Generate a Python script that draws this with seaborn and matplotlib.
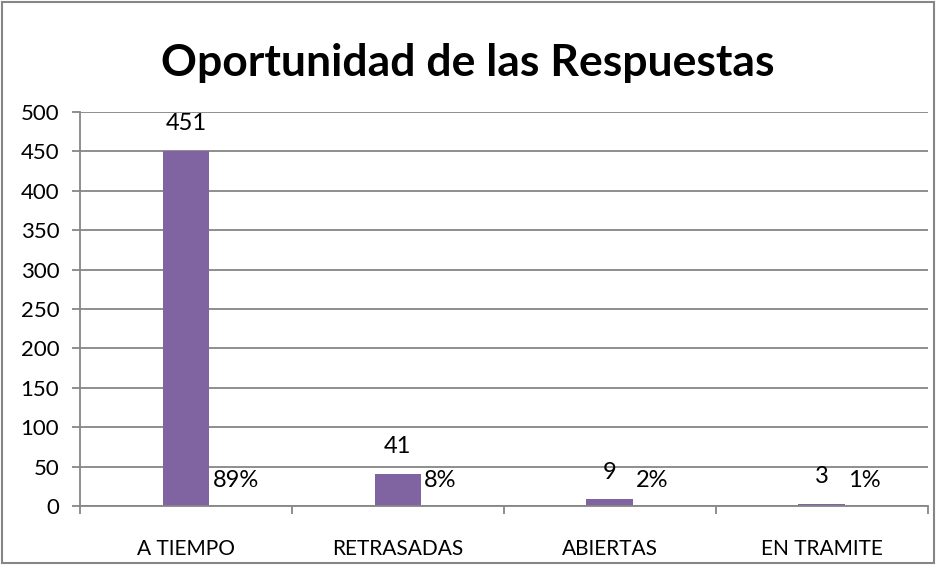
import numpy as np
import pandas as pd
import matplotlib
matplotlib.use("Agg")
import matplotlib.pyplot as plt
import seaborn as sns

# Datos
categorias = ["A TIEMPO", "RETRASADAS", "ABIERTAS", "EN TRAMITE"]
respuestas = [451, 41, 9, 3]
porcentajes = ["89%", "8%", "2%", "1%"]
yticks = [0, 50, 100, 150, 200, 250, 300, 350, 400, 450, 500]

df = pd.DataFrame({"categoria": categorias, "respuestas": respuestas})

sns.set_theme(style="white")
plt.rcParams["font.family"] = ["Lato", "DejaVu Sans"]

fig = plt.figure(figsize=(9.36, 5.65), dpi=100)
ax = fig.add_axes([0.0855, 0.1044, 0.9055, 0.6974])

sns.barplot(data=df, x="categoria", y="respuestas", color="#8064A2",
            saturation=1, width=0.22, linewidth=0, ax=ax)

# Etiquetas de valor y porcentaje
for i, (v, p) in enumerate(zip(respuestas, porcentajes)):
    ax.text(i, v + 34, str(v), ha="center", va="center", fontsize=17, color="black")
    ax.text(i + 0.125, 32, p, ha="left", va="center", fontsize=17, color="black")

ax.set_xlim(-0.5, 3.5)
ax.set_ylim(0, 500)
ax.set_yticks(yticks)
ax.yaxis.grid(True, color="#868686", linewidth=1.3)
ax.set_axisbelow(True)
ax.set_xlabel("")
ax.set_ylabel("")

for s in ["top", "right"]:
    ax.spines[s].set_visible(False)
for s in ["left", "bottom"]:
    ax.spines[s].set_color("#868686")
    ax.spines[s].set_linewidth(1.3)

ax.tick_params(axis="y", which="major", left=True, length=6, width=1.3,
               color="#868686", labelsize=16, labelcolor="black", pad=9)
ax.tick_params(axis="x", which="major", bottom=False, labelsize=15,
               labelcolor="black", pad=18)
ax.set_xticks(np.arange(-0.5, 4.0, 1.0), minor=True)
ax.tick_params(axis="x", which="minor", bottom=True, length=6, width=1.3,
               color="#868686")

fig.text(0.5, 0.888, "Oportunidad de las Respuestas", ha="center", va="center",
         fontsize=32, fontweight="bold", color="black")

# Borde exterior
fig.patches.append(plt.Rectangle((0.002, 0.003), 0.996, 0.994, transform=fig.transFigure,
                                 fill=False, edgecolor="#868686", linewidth=1.5))

fig.savefig("out.png", dpi=100)
